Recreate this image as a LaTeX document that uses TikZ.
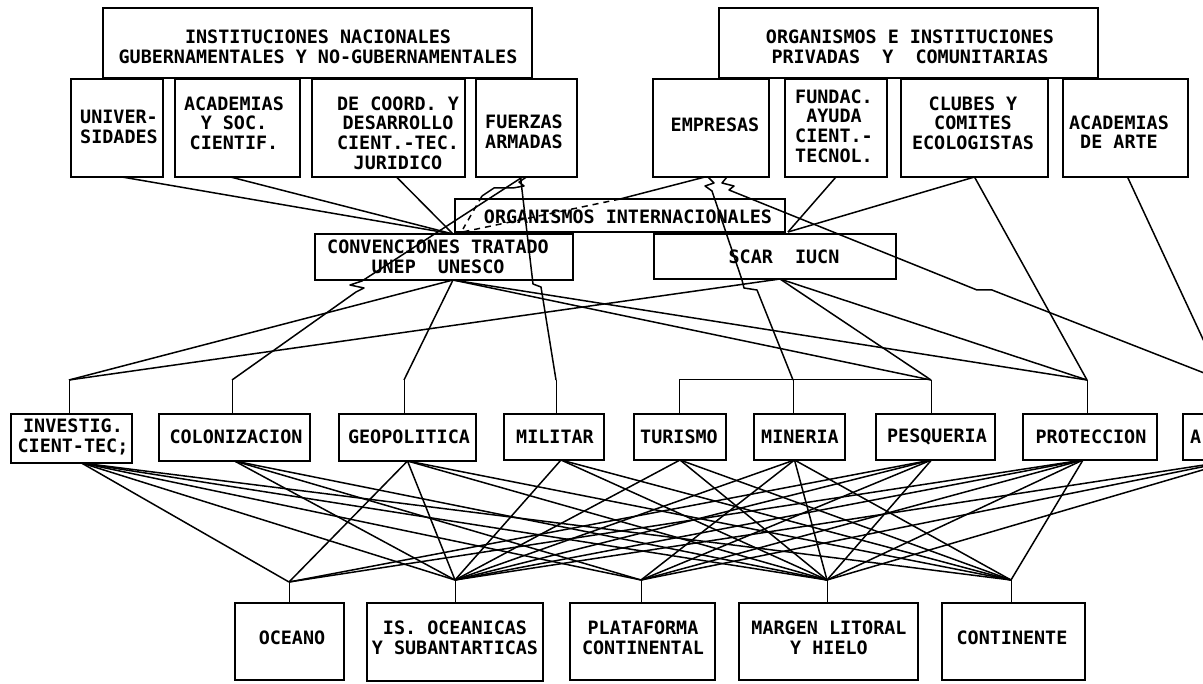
\documentclass[tikz,border=0pt]{standalone}
\usepackage{fontspec}
\setmonofont{DejaVu Sans Mono}
\usetikzlibrary{calc}
\newcommand\mkbox[5]{\node[box, minimum width={#4pt-#2pt}, minimum height={#5pt-#3pt}] (#1) at ({(#2+#4)/2},{(#3+#5)/2}) {};}
\begin{document}
\begin{tikzpicture}[x=1pt,y=-1pt,
  box/.style={draw, line width=1.8pt, inner sep=0pt, outer sep=0pt},
  txt/.style={font=\ttfamily\bfseries\fontsize{18.4}{19.6}\selectfont, align=center, inner sep=0pt},
  ln/.style={line width=1.5pt, line join=round},
  stub/.style={line width=1pt},
  dsh/.style={line width=1.5pt, dash pattern=on 6pt off 5pt}]
\useasboundingbox (0,0) rectangle (1203,684);
\clip (0,0) rectangle (1203,684);
% ---------- top level
\mkbox{hone}{103}{8}{532}{78}
\mkbox{univ}{71}{79}{163}{177}
\mkbox{acad}{175}{79}{300}{177}
\mkbox{deco}{312}{79}{465}{177}
\mkbox{fuer}{476}{79}{577}{177}
\mkbox{htwo}{719}{8}{1098}{78}
\mkbox{empr}{653}{79}{769}{177}
\mkbox{fund}{785}{79}{887}{177}
\mkbox{club}{901}{79}{1048}{177}
\mkbox{arte}{1063}{79}{1188}{177}
\node[txt] (honet) at (318,47) {INSTITUCIONES NACIONALES\\GUBERNAMENTALES Y NO-GUBERNAMENTALES};
\node[txt] (univt) at (119,127) {UNIVER-\\SIDADES};
\node[txt] (acadt) at (234,123) {ACADEMIAS\\Y SOC.\\CIENTIF.};
\node[txt] (decot) at (398,133) {DE COORD. Y\\DESARROLLO\\CIENT.-TEC.\\JURIDICO};
\node[txt] (fuert) at (524,132) {FUERZAS\\ARMADAS};
\node[txt] (htwot) at (910,47) {ORGANISMOS E INSTITUCIONES\\PRIVADAS\ \ Y\ \ COMUNITARIAS};
\node[txt] (emprt) at (715,125) {EMPRESAS};
\node[txt] (fundt) at (834,126) {FUNDAC.\\AYUDA\\CIENT.-\\TECNOL.};
\node[txt] (clubt) at (973,123) {CLUBES Y\\COMITES\\ECOLOGISTAS};
\node[txt] (artet) at (1119,132) {ACADEMIAS\\DE ARTE};
% ---------- middle
\mkbox{orgi}{455}{199}{785}{232}
\mkbox{conv}{315}{234}{573}{280}
\mkbox{scar}{654}{234}{896}{279}
\node[txt] (orgit) at (628,217) {ORGANISMOS INTERNACIONALES};
\node[txt] (convt) at (438,257) {CONVENCIONES TRATADO\\UNEP\ \ UNESCO};
\node[txt] (scart) at (784,257) {SCAR\ \ IUCN};
% ---------- activities
\mkbox{inve}{11}{414}{132}{463}
\mkbox{colo}{159}{414}{310}{461}
\mkbox{geop}{339}{414}{476}{461}
\mkbox{mili}{504}{414}{604}{460}
\mkbox{turi}{634}{414}{726}{460}
\mkbox{mine}{754}{414}{845}{460}
\mkbox{pesq}{876}{414}{995}{460}
\mkbox{prot}{1023}{414}{1157}{460}
\mkbox{arta}{1183}{414}{1290}{460}
\node[txt] (invet) at (73,437) {INVESTIG.\\CIENT-TEC;};
\node[txt] (colot) at (236,437) {COLONIZACION};
\node[txt] (geopt) at (409,437) {GEOPOLITICA};
\node[txt] (milit) at (555,437) {MILITAR};
\node[txt] (turit) at (679,437) {TURISMO};
\node[txt] (minet) at (800,437) {MINERIA};
\node[txt] (pesqt) at (937,437) {PESQUERIA};
\node[txt] (prott) at (1091,437) {PROTECCION};
\node[txt, anchor=west] (artat) at (1190,437) {A};
% ---------- bottom
\mkbox{ocea}{235}{603}{344}{680}
\mkbox{isoc}{367}{603}{543}{681}
\mkbox{plat}{570}{603}{715}{680}
\mkbox{marg}{739}{603}{918}{680}
\mkbox{cont}{942}{603}{1085}{680}
\node[txt] (oceat) at (292,638) {OCEANO};
\node[txt] (isoct) at (455,638) {IS. OCEANICAS\\Y SUBANTARTICAS};
\node[txt] (platt) at (643,638) {PLATAFORMA\\CONTINENTAL};
\node[txt] (margt) at (829,638) {MARGEN LITORAL\\Y HIELO};
\node[txt] (contt) at (1012,638) {CONTINENTE};
% ---------- junction points
\coordinate (c1) at (453,234);
\coordinate (c2) at (788,232);
\coordinate (c3) at (453,280);
\coordinate (c4) at (780,279);
\coordinate (jInve) at (69,380);
\coordinate (jColo) at (232,380);
\coordinate (jGeop) at (404,380);
\coordinate (jMili) at (556,380);
\coordinate (jTuri) at (679,380);
\coordinate (jMine) at (793,380);
\coordinate (jPesq) at (931,380);
\coordinate (jProt) at (1087,380);
\coordinate (jArta) at (1222,380);
\coordinate (bOcea) at (289,582);
\coordinate (bIsoc) at (455,580);
\coordinate (bPlat) at (641,580);
\coordinate (bMarg) at (827,580);
\coordinate (bCont) at (1011,580);
\coordinate (inveB) at ([xshift=10pt]inve.south);
\coordinate (coloB) at (colo.south);
\coordinate (geopB) at (geop.south);
\coordinate (miliB) at ([xshift=7pt]mili.south);
\coordinate (turiB) at (turi.south);
\coordinate (mineB) at ([xshift=-5pt]mine.south);
\coordinate (pesqB) at ([xshift=-4pt]pesq.south);
\coordinate (protB) at ([xshift=-7pt]prot.south);
\coordinate (artaB) at (arta.south);
% ---------- upper connectors
\draw[ln] ([xshift=5pt]univ.south) -- (c1);
\draw[ln] ([xshift=-7pt]acad.south) -- (c1);
\draw[ln] ([xshift=8pt]deco.south) -- (c1);
\draw[ln] ([xshift=-4pt]fuer.south) -- (362,281) -- (350,285) -- (364,288) -- (356,292) -- (jColo);
\draw[ln] ([xshift=-6pt]fuer.south) -- (533,284) -- (541,287) -- (jMili);
\draw[ln] (fuer.south) -- (519,182) -- (524,186) -- (513,188) -- (494,188) -- (482,196);
\draw[dsh] (482,196) -- (463,229);
\draw[ln] ([xshift=-6pt]empr.south) -- (620,199);
\draw[dsh] (620,199) -- (c1);
\draw[ln] ([xshift=-3pt]empr.south) -- (714,183) -- (705,186) -- (712,191) -- (742,280) -- (744,288) -- (757,290) -- (jMine);
\draw[ln] ([xshift=16pt]empr.south) -- (722,183) -- (734,186) -- (729,190) -- (977,290) -- (992,290) -- (jArta);
\draw[ln] (fund.south) -- (c2);
\draw[ln] (club.south) -- (c2);
\draw[ln] (club.south) -- (jProt);
\draw[ln] ([xshift=2pt]arte.south) -- (jArta);
\foreach \t in {jInve,jGeop,jPesq,jProt} \draw[ln] (c3) -- (\t);
\foreach \t in {jInve,jPesq,jProt} \draw[ln] (c4) -- (\t);
\draw[stub] (jTuri) -- (jPesq);
\foreach \j/\b in {jInve/inve,jColo/colo,jGeop/geop,jMili/mili,jTuri/turi,jMine/mine,jPesq/pesq,jProt/prot,jArta/arta}
  \draw[stub] (\j) -- (\j |- \b.north);
% ---------- lower connectors
\foreach \s/\t in {inveB/bOcea,inveB/bIsoc,inveB/bPlat,inveB/bMarg,inveB/bCont,
  coloB/bIsoc,coloB/bPlat,coloB/bMarg,
  geopB/bOcea,geopB/bIsoc,geopB/bMarg,geopB/bCont,
  miliB/bIsoc,miliB/bMarg,miliB/bCont,
  turiB/bIsoc,turiB/bMarg,turiB/bCont,
  mineB/bIsoc,mineB/bPlat,mineB/bMarg,mineB/bCont,
  pesqB/bOcea,pesqB/bIsoc,pesqB/bPlat,pesqB/bMarg,
  protB/bOcea,protB/bIsoc,protB/bPlat,protB/bMarg,protB/bCont,
  artaB/bIsoc,artaB/bPlat,artaB/bMarg}
  \draw[ln] (\s) -- (\t);
\foreach \j/\b in {bOcea/ocea,bIsoc/isoc,bPlat/plat,bMarg/marg,bCont/cont}
  \draw[stub] (\j) -- (\j |- \b.north);
\end{tikzpicture}
\end{document}
